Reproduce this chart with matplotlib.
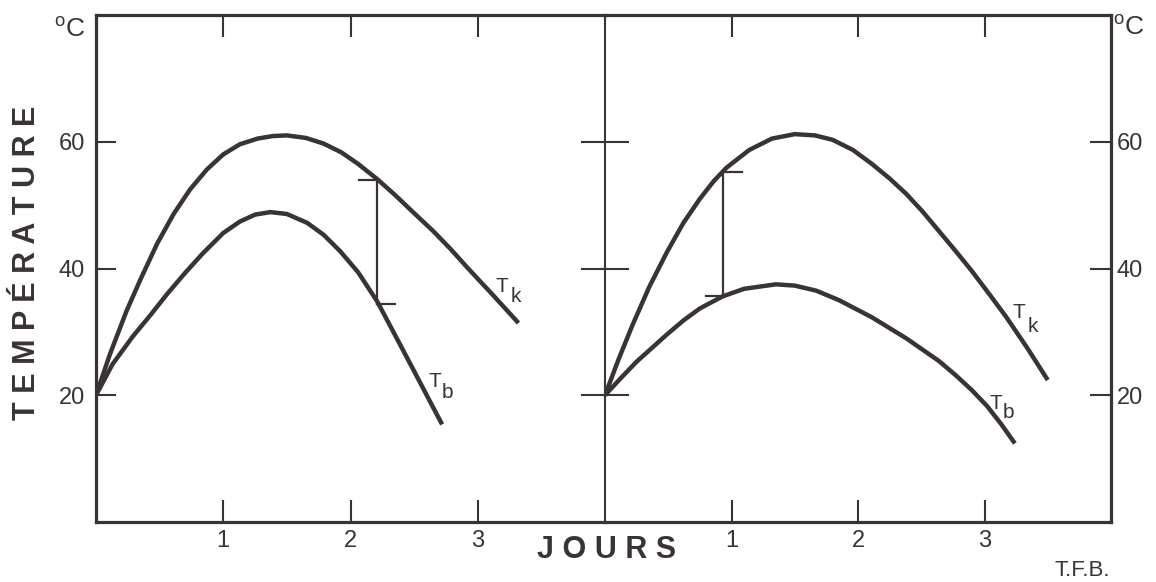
import matplotlib.pyplot as plt

plt.rcParams['font.family'] = ['Liberation Sans', 'DejaVu Sans']

ink = '#3a3333'

# left panel
days_tk_a = [0, 0.11, 0.24, 0.35, 0.48, 0.61, 0.74, 0.87, 1.0, 1.13, 1.27, 1.39, 1.5, 1.65, 1.79,
             1.93, 2.06, 2.21, 2.35, 2.47, 2.65, 2.79, 2.92, 3.12, 3.32]
temp_tk_a = [20, 26.5, 33.3, 38.3, 43.9, 48.6, 52.5, 55.6, 58.0, 59.6, 60.5, 60.9, 61.0, 60.6, 59.7,
             58.3, 56.5, 54.1, 51.6, 49.3, 45.9, 43.0, 40.1, 35.8, 31.4]
days_tb_a = [0, 0.13, 0.29, 0.43, 0.56, 0.7, 0.84, 1.0, 1.13, 1.25, 1.37, 1.5, 1.66, 1.79, 1.92,
             2.06, 2.21, 2.35, 2.5, 2.62, 2.72]
temp_tb_a = [20, 24.9, 29.3, 32.7, 36.0, 39.3, 42.4, 45.6, 47.4, 48.5, 48.9, 48.6, 47.2, 45.3, 42.7,
             39.4, 34.8, 29.5, 23.8, 19.2, 15.4]
gap_a = (2.21, 54.0, 34.4)

# right panel
days_tk_b = [0, 0.11, 0.22, 0.35, 0.49, 0.62, 0.75, 0.86, 0.96, 1.14, 1.32, 1.5, 1.66, 1.8, 1.96,
             2.11, 2.25, 2.38, 2.51, 2.64, 2.77, 2.9, 3.04, 3.17, 3.34, 3.5]
temp_tk_b = [20, 25.8, 31.2, 37.1, 42.6, 47.2, 51.0, 53.8, 55.9, 58.7, 60.5, 61.2, 61.0, 60.3, 58.7,
             56.5, 54.2, 51.8, 49.0, 45.9, 42.8, 39.6, 35.9, 32.4, 27.4, 22.4]
days_tb_b = [0, 0.12, 0.25, 0.49, 0.62, 0.75, 0.93, 1.1, 1.35, 1.5, 1.67, 1.85, 2.11, 2.38, 2.64,
             2.77, 2.9, 3.02, 3.13, 3.24]
temp_tb_b = [20, 22.6, 25.3, 29.6, 31.8, 33.7, 35.6, 36.8, 37.5, 37.3, 36.5, 35.0, 32.3, 29.0, 25.4,
             23.2, 20.8, 18.3, 15.5, 12.4]
gap_b = (0.93, 55.3, 35.6)

x_ticks = [1, 2, 3]
y_ticks = [20, 40, 60]

fig = plt.figure(figsize=(11.56, 5.82), dpi=100)
ax1 = fig.add_axes([96 / 1156, 60 / 582, 509 / 1156, 507 / 582])
ax2 = fig.add_axes([605 / 1156, 60 / 582, 506 / 1156, 507 / 582])

for ax in (ax1, ax2):
    ax.set_xlim(0, 4)
    ax.set_ylim(0, 80)
    ax.set_xticks(x_ticks)
    ax.set_xticklabels([str(t) for t in x_ticks])
    ax.set_yticks(y_ticks)
    ax.set_yticklabels([str(t) for t in y_ticks])
    ax.tick_params(axis='x', direction='in', top=True, bottom=True, length=16,
                   width=1.5, color=ink, labelsize=17, labelcolor=ink, pad=6)
    for s in ax.spines.values():
        s.set_color(ink)
        s.set_linewidth(2.3)
    ax.set_facecolor('none')

ax1.spines['right'].set_visible(False)
ax1.tick_params(axis='y', direction='in', left=True, right=False, length=14.5,
                width=1.5, color=ink, labelsize=17, labelcolor=ink, pad=8)

ax2.spines['left'].set_linewidth(1.5)
ax2.tick_params(axis='y', direction='inout', left=True, right=False, labelleft=False,
                length=34, width=1.5, color=ink)
# right side ticks drawn by a twin axis so they can point inward
ax3 = ax2.twinx()
ax3.set_ylim(0, 80)
ax3.set_yticks(y_ticks)
ax3.set_yticklabels([str(t) for t in y_ticks])
ax3.tick_params(axis='y', direction='in', length=15, width=1.5, color=ink,
                labelsize=17, labelcolor=ink, pad=4)
for s in ax3.spines.values():
    s.set_visible(False)

lw = 3.2
for ax, xs, ys in [(ax1, days_tk_a, temp_tk_a), (ax1, days_tb_a, temp_tb_a),
                   (ax2, days_tk_b, temp_tk_b), (ax2, days_tb_b, temp_tb_b)]:
    ax.plot(xs, ys, color=ink, lw=lw, solid_capstyle='butt', solid_joinstyle='round')

# difference bars
gx, gt, gb = gap_a
ax1.plot([gx, gx], [gt, gb], color=ink, lw=1.6)
ax1.plot([gx - 0.14, gx], [gt, gt], color=ink, lw=1.6)
ax1.plot([gx, gx + 0.14], [gb, gb], color=ink, lw=1.6)
gx, gt, gb = gap_b
ax2.plot([gx, gx], [gt, gb], color=ink, lw=1.6)
ax2.plot([gx, gx + 0.15], [gt, gt], color=ink, lw=1.6)
ax2.plot([gx - 0.13, gx], [gb, gb], color=ink, lw=1.6)

# curve names
def curve_name(ax, x, y, sub, xs, ys):
    ax.text(x, y, 'T', fontsize=15, color=ink, ha='center', va='center')
    ax.text(xs, ys, sub, fontsize=15, color=ink, ha='center', va='center')

curve_name(ax1, 3.19, 37.1, 'k', 3.30, 35.6)
curve_name(ax1, 2.66, 22.1, 'b', 2.76, 20.5)
curve_name(ax2, 3.27, 33.0, 'k', 3.38, 30.9)
curve_name(ax2, 3.09, 18.7, 'b', 3.19, 17.2)

ax1.text(-0.022, 0.972, r'$^{\mathregular{o}}$C', transform=ax1.transAxes,
         ha='right', va='center', fontsize=19, color=ink)
ax2.text(1.004, 0.976, r'$^{\mathregular{o}}$C', transform=ax2.transAxes,
         ha='left', va='center', fontsize=19, color=ink)

fig.text(27 / 1156, 1 - 263 / 582, 'T E M P É R A T U R E', rotation=90, fontsize=22,
         fontweight='bold', ha='center', va='center', color=ink)
fig.text(607 / 1156, 1 - 550 / 582, 'J O U R S', fontsize=22, fontweight='bold',
         ha='center', va='center', color=ink)
fig.text(1082 / 1156, 1 - 570 / 582, 'T.F.B.', fontsize=16, ha='center', va='center', color=ink)

fig.savefig('out.png', dpi=100)
